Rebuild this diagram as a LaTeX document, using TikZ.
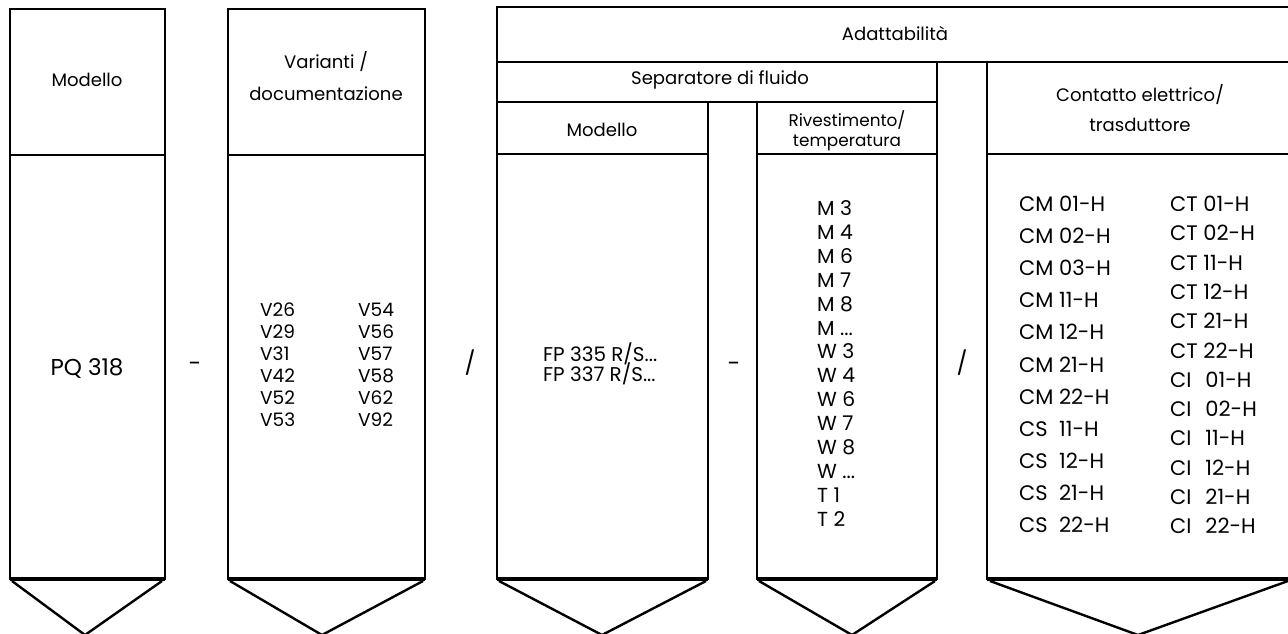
\documentclass[tikz,border=0pt]{standalone}
\usepackage{fontspec}
\setmainfont{Poppins}
\newcommand{\mydots}{...}
\newlength\tmpw
\newlength\pwA
\newlength\pwB
\newcommand\fitsize[3]{\settowidth\tmpw{\fontsize{10}{12}\selectfont #2}\pgfmathsetmacro#1{10*#3/\tmpw}}
\begin{document}
\fitsize\hA{documentazione}{150}%
\fitsize\hB{Separatore di fluido}{185}%
\fitsize\hC{Contatto elettrico/}{165}%
\fitsize\hD{Adattabilità}{106}%
\pgfmathsetmacro\szH{(\hA+\hB+\hC+\hD)/4}%
\fitsize\szR{Rivestimento/}{117}%
\fitsize\szP{PQ 318}{73}%
\fitsize\szV{V26}{35}%
\fitsize\szF{FP 335 R/S...}{114}%
\fitsize\szM{W 4}{38}%
\fitsize\szC{CM 01-H}{86}%
\settowidth\pwA{\fontsize{\szC}{\szC}\selectfont CM\ }%
\settowidth\pwB{\fontsize{\szC}{\szC}\selectfont CT\ }%
\begin{tikzpicture}[x=1pt,y=-1pt,
  frame/.style={line width=2.7pt, line join=miter},
  bottomedge/.style={line width=3.6pt},
  tri/.style={line width=2.4pt, line join=miter},
  txt/.style={inner sep=0pt, text height=0.7em, text depth=0pt},
  hdr/.style={txt, font=\fontsize{\szH}{\szH}\selectfont},
  subhdr/.style={txt, font=\fontsize{\szR}{\szR}\selectfont},
  val/.style={txt, font=\fontsize{\szP}{\szP}\selectfont},
  lst/.style={txt, anchor=west},
  vlist/.style={lst, font=\fontsize{\szV}{\szV}\selectfont},
  fplist/.style={lst, font=\fontsize{\szF}{\szF}\selectfont},
  mlist/.style={lst, font=\fontsize{\szM}{\szM}\selectfont},
  clist/.style={lst, font=\fontsize{\szC}{\szC}\selectfont}
]
\useasboundingbox (0,0) rectangle (1288,633);
\clip (0,0) rectangle (1288,633);

% Box 1: Modello
\draw[frame] (10,9) rectangle (165,579);
\draw[frame] (10,155) -- (165,155);
\draw[bottomedge] (10,579) -- (165,579);
\draw[tri] (12,581) -- (85,635) -- (162,581);

% Box 2: Varianti
\draw[frame] (228,9) rectangle (425,579);
\draw[frame] (228,155) -- (425,155);
\draw[bottomedge] (228,579) -- (425,579);
\draw[tri] (230,581) -- (322,635) -- (423,581);

% Adattabilita group
\draw[frame] (1290,7) -- (497,7) -- (497,579) -- (708,579) -- (708,102);
\draw[frame] (497,62) -- (1290,62);
\draw[frame] (497,102) -- (937,102);
\draw[frame] (497,154) -- (708,154);
\draw[bottomedge] (497,579) -- (708,579);
\draw[tri] (499,581) -- (602,635) -- (706,581);

\draw[frame] (757,102) -- (757,579) -- (937,579) -- (937,62);
\draw[frame] (757,154) -- (937,154);
\draw[bottomedge] (757,579) -- (937,579);
\draw[tri] (759,581) -- (852,635) -- (935,581);

\draw[frame] (987,62) -- (987,579) -- (1290,579);
\draw[frame] (987,154) -- (1290,154);
\draw[bottomedge] (987,579) -- (1290,579);
\draw[tri] (990,581) -- (1138,635) -- (1288,581);

% Headers
\node[hdr] (hModello) at (87,83) {Modello};
\node[hdr] (hVar1) at (326,65) {Varianti /};
\node[hdr] (hVar2) at (326,97) {documentazione};
\node[hdr] (hAdat) at (895,37) {Adattabilità};
\node[hdr] (hSep) at (720,81) {Separatore di fluido};
\node[hdr] (hMod2) at (602,133) {Modello};
\node[subhdr] (hRiv1) at (847,123) {Rivestimento/};
\node[subhdr] (hRiv2) at (847,143) {temperatura};
\node[hdr] (hCon1) at (1140,98) {Contatto elettrico/};
\node[hdr] (hCon2) at (1140,128) {trasduttore};

% Values and separators
\node[val] (pq) at (87,372) {PQ 318};
\node[val] (s1) at (195,368) {-};
\node[val] (s2) at (470,368) {/};
\node[val] (s3) at (734,368) {-};
\node[val] (s4) at (962,368) {/};

% V list
\foreach \a/\b [count=\i from 0] in {V26/V54,V29/V56,V31/V57,V42/V58,V52/V62,V53/V92}{
  \node[vlist] (va\i) at (260,313+21.9*\i) {\a};
  \node[vlist] (vb\i) at (358,313+21.9*\i) {\b};
}

% FP list
\node[fplist] (fp1) at (543,358) {FP 335 R/S...};
\node[fplist] (fp2) at (543,378) {FP 337 R/S...};

% M/W/T list
\foreach \t [count=\i from 0] in {M 3,M 4,M 6,M 7,M 8,M \mydots,W 3,W 4,W 6,W 7,W 8,W \mydots,T 1,T 2}{
  \node[mlist] (m\i) at (817,212+23.9*\i) {\t};
}

% Contact lists
\foreach \p/\n [count=\i from 0] in {CM/01-H,CM/02-H,CM/03-H,CM/11-H,CM/12-H,CM/21-H,CM/22-H,CS/11-H,CS/12-H,CS/21-H,CS/22-H}{
  \node[clist] (c\i) at (1019,208+32.1*\i) {\makebox[\pwA][l]{\p}\n};
}
\foreach \p/\n/\e [count=\i from 0] in {CT/01-H/0,CT/02-H/0,CT/11-H/0,CT/12-H/0,CT/21-H/0,CT/22-H/0,CI/01-H/2,CI/02-H/2,CI/11-H/2,CI/12-H/2,CI/21-H/2,CI/22-H/2}{
  \node[clist] (d\i) at (1170,208+29.3*\i) {\makebox[\pwB][l]{\p}\kern\e pt\n};
}
\end{tikzpicture}
\end{document}
